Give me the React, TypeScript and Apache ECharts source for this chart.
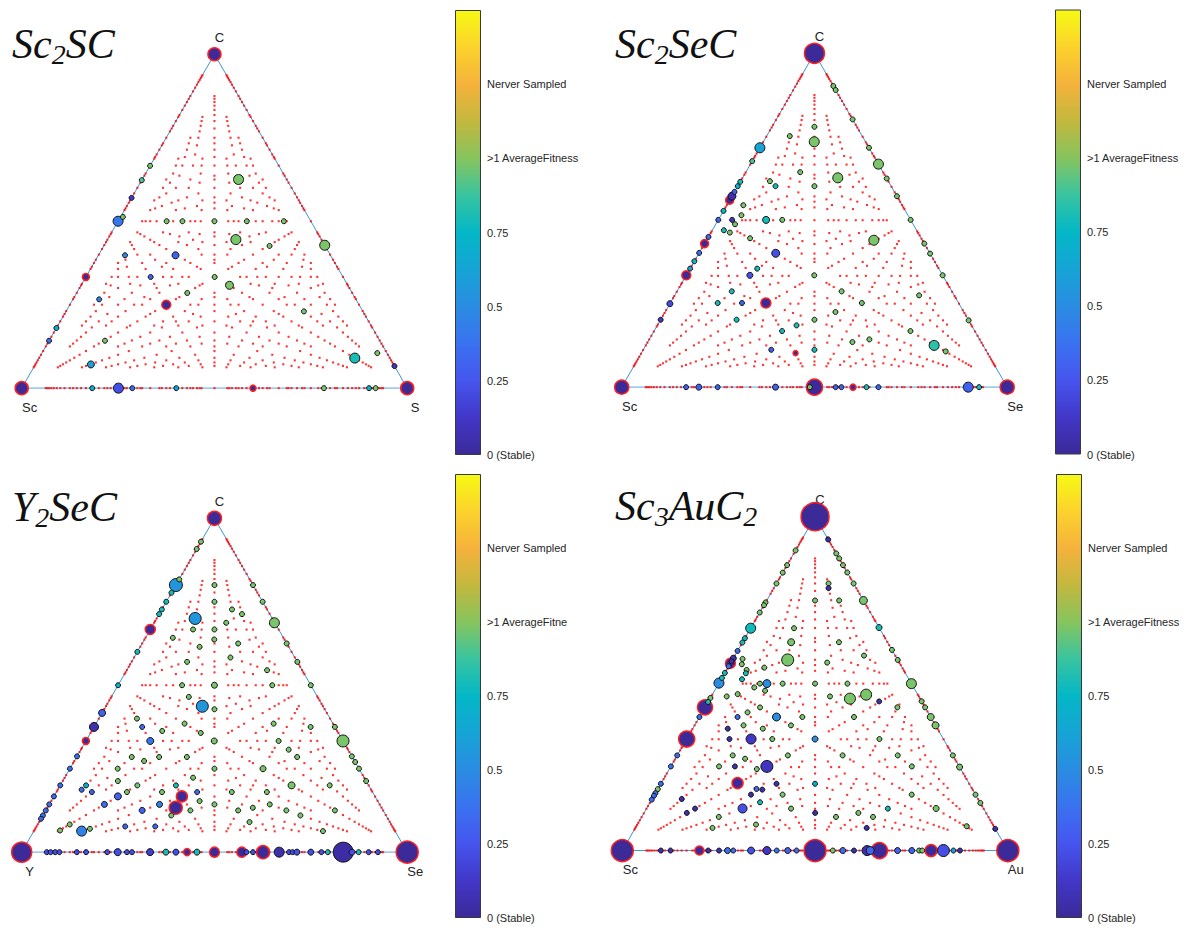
import React, { useEffect, useRef } from "react";
import * as echarts from "echarts";

// ---------- value shorthands (colour scale 0 .. 1.5) ----------
const G = 0.98; // ~1 average fitness (green)
const T = 0.8; // teal
const A = 0.55; // azure
const B = 0.35; // blue
const V = 0.22; // blue-violet
const D = 0.05; // dark (almost stable)
const s = 5; // small marker diameter

const SQ = Math.sqrt(3) / 2;
const MAX_ATOMS = 16; // sampled compositions: up to 16 atoms per cell

// colour bar
const cbTicks = [0, 0.25, 0.5, 0.75, 1, 1.25];
const cbLabels = ["0 (Stable)", "0.25", "0.5", "0.75", ">1 AverageFitness", "Nerver Sampled"];
const parula = [
  "#3b2a98", "#4237c8", "#4655ee", "#3a72f0", "#2a8ce2", "#16a4d6", "#03b7c6",
  "#38c4a0", "#86c45e", "#c3b83e", "#f5b23c", "#fcd22c", "#f6fa14",
];

// ---------- data: [rightFraction, carbonFraction, value, size] ----------
// Sc - S - C
const p1Names = ["Sc", "S", "C"];
const p1Stable = [
  [0, 0, 13], [1, 0, 13], [0, 1, 13], [0.25, 0.25, 9], [0, 0.333, 7], [0.6, 0, 6],
];
const p1Points = [
  [0.25, 0.625, G, 10], [0.333, 0.445, G, 10], [0.385, 0.308, G, 8], [0.572, 0.428, G, 10],
  [0.819, 0.09, T, 10], [0, 0.5, 0.4, 10], [0.2, 0.398, 0.3, 7], [0.144, 0.071, 0.6, 7],
  [0.251, 0, V, 10],
  [0, 0.666, G, s], [0, 0.623, 0.9, s], [0, 0.57, 0.12, s], [0.006, 0.513, G, s],
  [0.126, 0.5, G, s], [0.167, 0.5, G, s], [0.25, 0.5, G, s], [0.334, 0.5, G, s], [0.43, 0.5, G, s],
  [0.43, 0.426, G, s], [0.069, 0.398, 0.5, s], [0.168, 0.333, 0.3, s], [0.334, 0.333, G, s],
  [0.287, 0.285, G, s], [0.068, 0.266, 0.45, s], [0.617, 0.23, G, s], [0.145, 0.142, G, s],
  [0, 0.18, 0.7, s], [0, 0.142, B, s], [0.87, 0.105, G, s], [0.934, 0.066, 0.1, s],
  [0.183, 0, 0.7, s], [0.287, 0, B, s], [0.401, 0, 0.6, s], [0.784, 0, G, s], [0.901, 0, 0.7, s],
  [0.918, 0, G, s],
];

// Sc - Se - C
const p2Names = ["Sc", "Se", "C"];
const p2Stable = [
  [0, 0, 14], [1, 0, 14], [0, 1, 20], [0.5, 0, 16], [0.248, 0.252, 10], [0, 0.335, 9],
  [0, 0.43, 8], [0, 0.56, 8], [0.4, 0.102, 5], [0.6, 0, 6],
];
const p2Points = [
  [0, 0.717, 0.62, 10], [0.132, 0.735, G, 10], [0.332, 0.668, G, 10], [0.247, 0.627, G, 10],
  [0.434, 0.44, G, 10], [0.748, 0.125, 0.85, 10], [0.124, 0.501, T, 7], [0.199, 0.401, V, 8],
  [0, 0.572, D, 8], [0.899, 0, 0.3, 10], [0, 0.25, 0.2, 6], [0.165, 0.335, V, 6], [0, 0.501, 0.3, s],
  [0.098, 0.902, G, s], [0.11, 0.89, G, s], [0.198, 0.802, G, s], [0.283, 0.717, G, s],
  [0.375, 0.625, G, s], [0.428, 0.572, G, s], [0.499, 0.501, G, s], [0.57, 0.43, G, s],
  [0.6, 0.4, G, s], [0.665, 0.335, G, s], [0.8, 0.2, G, s],
  [0, 0.677, 0.9, s], [0, 0.615, T, s], [0, 0.602, 0.7, s], [0, 0.585, 0.3, s], [0, 0.528, 0.75, s],
  [0, 0.45, B, s], [0, 0.402, B, s], [0, 0.377, 0.75, s], [0, 0.355, 0.6, s], [0, 0.202, 0.12, s],
  [0.11, 0.78, G, s], [0.06, 0.752, G, s], [0.199, 0.602, G, s], [0.141, 0.644, G, s],
  [0.076, 0.617, G, s], [0.098, 0.602, T, s], [0.043, 0.545, G, s], [0.053, 0.515, G, s],
  [0.166, 0.501, G, s], [0.036, 0.501, 0.1, s], [0.05, 0.488, G, s], [0.03, 0.47, T, s],
  [0.049, 0.463, G, s], [0.11, 0.446, G, s], [0.174, 0.355, T, s], [0.332, 0.335, G, s],
  [0.142, 0.287, T, s], [0.123, 0.252, T, s], [0.186, 0.252, 0.3, s], [0.197, 0.202, T, s],
  [0.332, 0.168, T, s], [0.361, 0.185, T, s], [0.399, 0.202, G, s], [0.332, 0.112, 0.3, s],
  [0.444, 0.112, T, s], [0.427, 0.287, G, s], [0.497, 0.252, G, s], [0.442, 0.225, G, s],
  [0.531, 0.135, G, s], [0.571, 0.143, G, s], [0.665, 0.168, G, s], [0.634, 0.275, G, s],
  [0.787, 0.107, G, s],
  [0.167, 0, 0.3, s], [0.2, 0, 0.3, 6], [0.249, 0, 0.3, s], [0.399, 0, 0.3, 6], [0.488, 0, G, s],
  [0.555, 0, 0.3, s], [0.57, 0, 0.3, s], [0.635, 0, T, s], [0.666, 0, 0.3, s], [0.927, 0, T, s],
];

// Y - Se - C
const p3Names = ["Y", "Se", "C"];
const p3Stable = [
  [0, 0, 20], [1, 0, 22], [0, 1, 14], [0, 0.667, 10], [0, 0.333, 7], [0.332, 0.167, 11],
  [0.333, 0.133, 13], [0.429, 0, 7], [0.5, 0, 10], [0.571, 0, 10], [0.626, 0, 13],
];
const p3Points = [
  [0.834, 0, 0.03, 20], [0, 0.8, A, 13], [0.1, 0.7, A, 12], [0.25, 0.437, A, 12],
  [0.312, 0.687, G, 10], [0.667, 0.333, G, 12], [0, 0.417, 0.3, 7], [0, 0.375, D, 9],
  [0.167, 0.333, 0.4, 7], [0.166, 0.167, 0.3, 7], [0.124, 0.063, 0.45, 10], [0.668, 0, D, 10],
  [0.286, 0.143, 0.45, 6], [0.6, 0.2, G, 7], [0.501, 0.25, G, 6], [0.25, 0.5, G, 6],
  [0.333, 0.333, G, 6], [0.375, 0.25, G, s],
  [0, 0.908, G, s], [0, 0.93, G, s], [0, 0.817, G, s], [0, 0.777, T, s], [0, 0.75, T, s],
  [0, 0.727, T, s], [0, 0.713, T, s], [0, 0.6, T, s], [0, 0.5, 0.7, s], [0, 0.287, B, s],
  [0, 0.25, B, s], [0, 0.2, B, s], [0, 0.167, B, s], [0, 0.143, B, s], [0, 0.125, B, s],
  [0, 0.11, B, s], [0, 0.1, B, s],
  [0.2, 0.8, G, s], [0.25, 0.75, G, s], [0.375, 0.625, G, s], [0.43, 0.57, G, s], [0.5, 0.5, G, s],
  [0.625, 0.375, G, s], [0.713, 0.287, G, s], [0.73, 0.27, G, s], [0.75, 0.25, G, s], [0.787, 0.213, G, s],
  [0.1, 0.8, G, s], [0.125, 0.75, G, s], [0.1665, 0.667, G, s], [0.181, 0.637, G, s],
  [0.182, 0.727, G, s], [0.215, 0.713, G, s], [0.187, 0.687, G, s], [0.111, 0.667, G, s],
  [0.154, 0.615, G, s], [0.071, 0.642, G, s], [0.249, 0.625, G, s], [0.25, 0.583, G, s],
  [0.144, 0.57, G, s], [0.364, 0.545, G, s], [0.166, 0.5, G, s], [0.4, 0.5, G, s],
  [0.201, 0.465, G, s], [0.286, 0.428, G, s], [0.286, 0.357, G, s], [0.23, 0.385, G, s],
  [0.183, 0.363, G, s], [0.125, 0.375, B, s], [0.099, 0.4, G, s], [0.461, 0.385, G, s],
  [0.562, 0.375, G, s], [0.5, 0.333, G, s], [0.539, 0.307, G, s], [0.572, 0.285, G, s],
  [0.143, 0.285, G, s], [0.181, 0.273, G, s], [0.214, 0.285, G, s], [0.286, 0.285, G, s],
  [0.124, 0.25, G, s], [0.143, 0.213, G, s], [0.2, 0.2, G, s], [0.183, 0.18, G, s],
  [0.333, 0.223, G, s], [0.3, 0.2, T, s], [0.274, 0.18, G, s], [0.365, 0.18, B, s],
  [0.385, 0.153, G, s], [0.375, 0.125, G, s], [0.333, 0.11, G, s], [0.4285, 0.143, G, s],
  [0.455, 0.18, G, s], [0.546, 0.18, G, s], [0.572, 0.143, G, s], [0.533, 0.133, G, s],
  [0.499, 0.125, G, s], [0.546, 0.09, G, s], [0.624, 0.125, G, s], [0.668, 0.11, G, s],
  [0.699, 0.2, G, s], [0.75, 0.125, G, s], [0.75, 0.063, G, s], [0.25, 0.125, 0.3, 6],
  [0.143, 0.143, B, 6], [0.062, 0.187, B, s], [0.067, 0.2, 0.7, s], [0.092, 0.18, 0.3, s],
  [0.23, 0.077, 0.3, s], [0.308, 0.077, 0.3, s], [0.083, 0.083, G, s], [0.067, 0.065, G, s],
  [0.142, 0.07, G, s],
  [0.065, 0, V, s], [0.075, 0, V, s], [0.087, 0, V, s], [0.098, 0, V, s], [0.143, 0, V, s],
  [0.167, 0, V, s], [0.222, 0, V, s], [0.249, 0, V, 7], [0.273, 0, V, s], [0.286, 0, V, s],
  [0.333, 0, 0.15, 7], [0.374, 0, T, 6], [0.4, 0, V, 6], [0.4545, 0, T, 6], [0.583, 0, V, s],
  [0.6, 0, V, s], [0.6935, 0, V, s], [0.703, 0, V, s], [0.714, 0, V, 6], [0.75, 0, V, 6],
  [0.7775, 0, V, s], [0.794, 0, T, s], [0.857, 0, V, 6], [0.874, 0, T, s], [0.9, 0, V, s],
  [0.924, 0, V, s],
];

// Sc - Au - C
const p4Names = ["Sc", "Au", "C"];
const p4Stable = [
  [0, 0, 22], [1, 0, 22], [0, 1, 28], [0.5, 0, 22], [0.667, 0, 16], [0.801, 0, 12], [0.2, 0, 9],
  [0, 0.334, 16], [0, 0.429, 15], [0, 0.561, 10], [0.198, 0.202, 11],
];
const p4Points = [
  [0, 0.666, 0.78, 10], [0, 0.5015, 0.5, 10], [0.125, 0.5, 0.5, 8], [0.1435, 0.571, G, 12],
  [0.126, 0.624, G, 7], [0.363, 0.455, G, 11], [0.399, 0.467, G, 11], [0.251, 0.749, G, 8],
  [0.5, 0.5, G, 10], [0.332, 0.668, T, 6], [0.2, 0.4, 0.5, 8], [0.167, 0.334, 0.12, 10],
  [0.249, 0.252, 0.1, 12], [0.249, 0.126, V, 9], [0.333, 0.334, 0.5, 6], [0.4, 0.2, 0.7, s],
  [0.833, 0, V, 12], [0.635, 0, D, 10], [0.643, 0, 0.32, 8], [0.375, 0, 0.12, 8], [0.334, 0, V, 7],
  [0.429, 0, 0.3, 6], [0.714, 0, 0.3, 6], [0.751, 0, 0.3, 6], [0.859, 0, A, s], [0.751, 0.126, G, 6],
  [0, 0.899, G, s], [0, 0.855, G, s], [0, 0.8325, G, s], [0, 0.8, G, s], [0, 0.743, G, s],
  [0, 0.735, G, s], [0, 0.713, G, s], [0, 0.636, T, s], [0, 0.623, T, s], [0, 0.598, B, s],
  [0, 0.576, D, 6], [0, 0.567, D, s], [0, 0.552, B, s], [0, 0.532, T, s], [0, 0.517, T, s],
  [0, 0.457, G, s], [0, 0.445, T, s], [0, 0.4, B, s], [0, 0.285, B, s], [0, 0.252, B, s],
  [0, 0.2, B, s], [0, 0.184, G, s], [0, 0.172, B, s], [0, 0.164, B, s], [0, 0.1525, B, s],
  [0.025, 0.574, G, s], [0.031, 0.558, G, s], [0.052, 0.541, G, s], [0.055, 0.531, T, s],
  [0.054, 0.513, T, s],
  [0.068, 0.932, D, s], [0.11, 0.89, G, s], [0.125, 0.875, G, s], [0.145, 0.855, G, s],
  [0.167, 0.833, G, s], [0.2, 0.8, G, s], [0.399, 0.601, G, s], [0.429, 0.571, G, s],
  [0.553, 0.447, G, s], [0.571, 0.429, G, s], [0.6, 0.4, G, 7], [0.625, 0.375, G, 7],
  [0.715, 0.285, G, s], [0.75, 0.25, G, 6], [0.8325, 0.1675, G, s], [0.8574, 0.1426, G, s],
  [0.935, 0.065, D, s],
  [0.135, 0.8, G, s], [0.142, 0.786, D, s], [0.1255, 0.749, G, s], [0.188, 0.749, G, s],
  [0.1125, 0.666, G, s], [0.25, 0.624, G, s], [0.335, 0.584, G, s], [0.25, 0.563, G, s],
  [0.0945, 0.548, G, s], [0.098, 0.4885, G, s], [0.107, 0.5, G, s], [0.131, 0.4786, G, s],
  [0.166, 0.5, G, s], [0.25, 0.5, G, s], [0.334, 0.5, G, s], [0.308, 0.4616, G, s],
  [0.443, 0.4467, D, s], [0.499, 0.429, G, s], [0.04, 0.4616, G, s], [0.065, 0.4686, G, s],
  [0.143, 0.4287, G, s], [0.099, 0.4, B, s], [0.118, 0.4138, G, s], [0.267, 0.4, G, s],
  [0.401, 0.4, G, s], [0.127, 0.375, G, s], [0.182, 0.365, G, s], [0.25, 0.375, G, s],
  [0.091, 0.365, D, s], [0.111, 0.334, D, s], [0.222, 0.334, G, s], [0.5, 0.334, G, s],
  [0.144, 0.285, G, s], [0.181, 0.275, G, s], [0.287, 0.285, G, s], [0.429, 0.285, G, s],
  [0.572, 0.285, G, s], [0.125, 0.252, G, s], [0.166, 0.252, D, s], [0.227, 0.244, G, s],
  [0.625, 0.252, G, s], [0.3, 0.2, D, s], [0.272, 0.1825, D, s], [0.25, 0.1675, D, s],
  [0.256, 0.1844, B, s], [0.332, 0.1675, G, s], [0.077, 0.1545, D, s], [0.126, 0.1256, D, s],
  [0.111, 0.1127, D, s], [0.2, 0.1007, G, s], [0.285, 0.1446, T, s], [0.375, 0.1256, G, s],
  [0.444, 0.1127, D, s], [0.308, 0.0778, G, s], [0.2, 0.0678, G, s], [0.504, 0.1007, G, s],
  [0.556, 0.1127, G, s], [0.6, 0.1007, G, s], [0.6, 0.0678, D, s], [0.626, 0.1256, T, s],
  [0.667, 0.1675, G, s], [0.857, 0.0728, G, s],
  [0.1, 0, D, s], [0.125, 0, D, s], [0.223, 0, D, s], [0.251, 0, D, s], [0.273, 0, B, 6],
  [0.288, 0, B, s], [0.4005, 0, B, s], [0.452, 0, B, s], [0.546, 0, G, s], [0.572, 0, B, 6],
  [0.601, 0, D, s], [0.77, 0, G, s], [0.778, 0, G, s], [0.876, 0, D, s],
];

// ---------- layout (pixels) ----------
const SIDE = 385.5;
const panels = [
  { title: "{m|Sc}{s|2}{m|SC}", names: p1Names, stable: p1Stable, points: p1Points,
    left: 21.7, top: 54.3, tx: 12, ty: 19, cb: [455, 10, 26, 445], cbLabelWidth: 200 },
  { title: "{m|Sc}{s|2}{m|SeC}", names: p2Names, stable: p2Stable, points: p2Points,
    left: 621.7, top: 53.3, tx: 615, ty: 19, cb: [1055, 9.5, 26, 445], cbLabelWidth: 200 },
  { title: "{m|Y}{s|2}{m|SeC}", names: p3Names, stable: p3Stable, points: p3Points,
    left: 21.7, top: 518.3, tx: 12, ty: 482, cb: [455, 474, 26, 444], cbLabelWidth: 83 },
  { title: "{m|Sc}{s|3}{m|AuC}{s|2}", names: p4Names, stable: p4Stable, points: p4Points,
    left: 622.3, top: 516.7, tx: 615, ty: 481, cb: [1056, 474, 26, 444], cbLabelWidth: 200 },
];

function toXY(d: number[]) {
  const [b, c, ...rest] = d;
  return [b + c / 2, c * SQ, ...rest];
}

function latticeCompositions(maxAtoms: number) {
  const seen = new Set<string>();
  const out: number[][] = [];
  for (let n = 2; n <= maxAtoms; n++) {
    for (let j = 0; j <= n; j++) {
      for (let k = 0; k <= n - j; k++) {
        const i = n - j - k;
        const zeros = (i === 0 ? 1 : 0) + (j === 0 ? 1 : 0) + (k === 0 ? 1 : 0);
        if (zeros > 1) continue;
        const key = Math.round((j / n) * 1e5) + "," + Math.round((k / n) * 1e5);
        if (seen.has(key)) continue;
        seen.add(key);
        out.push([j / n, k / n]);
      }
    }
  }
  return out;
}

export default function App() {
  const ref = useRef<HTMLDivElement>(null);
  useEffect(() => {
    if (!ref.current) return;
    const chart = echarts.init(ref.current, undefined, { renderer: "svg" });
    const lattice = latticeCompositions(MAX_ATOMS).map(toXY);
    const triangle = [[0, 0], [1, 0], [0, 1], [0, 0]].map(toXY);
    const H = SIDE * SQ;

    const grid: any[] = [];
    const xAxis: any[] = [];
    const yAxis: any[] = [];
    const series: any[] = [];
    const graphic: any[] = [];
    const pointSeriesIdx: number[] = [];
    const gradient = new echarts.graphic.LinearGradient(
      0, 1, 0, 0,
      parula.map((c, i) => ({ offset: i / (parula.length - 1), color: c }))
    );

    panels.forEach((p, pi) => {
      const g = pi * 2;
      grid.push({ left: p.left, top: p.top, width: SIDE, height: H });
      xAxis.push({ type: "value", gridIndex: g, min: 0, max: 1, show: false });
      yAxis.push({ type: "value", gridIndex: g, min: 0, max: SQ, show: false });
      const [cx, cy, cw, ch] = p.cb;
      grid.push({ left: cx, top: cy, width: cw, height: ch });
      xAxis.push({ type: "category", gridIndex: g + 1, data: ["bar"], show: false, boundaryGap: true });
      yAxis.push({
        type: "value", gridIndex: g + 1, min: 0, max: 1.5, interval: 0.25, position: "right",
        axisLine: { show: false }, splitLine: { show: false },
        axisTick: { inside: true, length: 3, lineStyle: { color: "#333", width: 1 } },
        axisLabel: {
          margin: 6, fontSize: 11, color: "#262626", fontFamily: "Liberation Sans, Arial, sans-serif",
          width: p.cbLabelWidth, overflow: "truncate", ellipsis: "",
          formatter: (v: number) => {
            const idx = cbTicks.findIndex((t) => Math.abs(t - v) < 1e-6);
            return idx >= 0 ? cbLabels[idx] : "";
          },
        },
      });

      series.push({
        type: "line", xAxisIndex: g, yAxisIndex: g, data: triangle, symbol: "none", silent: true,
        lineStyle: { color: "#3b95d6", width: 1 }, z: 1,
      });
      series.push({
        type: "scatter", xAxisIndex: g, yAxisIndex: g, data: lattice, symbol: "rect", symbolSize: 2.1,
        silent: true, itemStyle: { color: "#ff0000" }, z: 2,
      });
      series.push({
        type: "scatter", xAxisIndex: g, yAxisIndex: g, silent: true, z: 3,
        data: p.stable.map((d) => toXY(d)).map((d) => [d[0], d[1], 0, d[2]]),
        symbolSize: (d: number[]) => d[3],
        itemStyle: { color: "#3b2a98", borderColor: "#ff1f1f", borderWidth: 1.5, opacity: 1 },
      });
      pointSeriesIdx.push(series.length);
      series.push({
        type: "scatter", xAxisIndex: g, yAxisIndex: g, silent: true, z: 4,
        data: p.points.map((d) => toXY(d)),
        symbolSize: (d: number[]) => d[3],
        itemStyle: { borderColor: "#111", borderWidth: 1, opacity: 1 },
      });
      series.push({
        type: "bar", xAxisIndex: g + 1, yAxisIndex: g + 1, data: [1.5], barWidth: "100%", silent: true,
        itemStyle: { color: gradient, borderColor: "#3a3a3a", borderWidth: 1 },
      });

      // titles
      graphic.push({
        type: "text", left: p.tx, top: p.ty, silent: true,
        style: {
          text: p.title,
          rich: {
            m: { fontFamily: "Liberation Serif", fontStyle: "italic", fontSize: 42, lineHeight: 49, fill: "#111" },
            s: { fontFamily: "Liberation Serif", fontStyle: "italic", fontSize: 28, lineHeight: 28, padding: [21, 0, 0, 0], fill: "#111" },
          },
        },
      });
      // vertex labels
      const vx = [p.left, p.left + SIDE, p.left + SIDE / 2];
      const vy = [p.top + H, p.top + H, p.top];
      const off = [[8, 19], [8, 19], [5, -17]];
      p.names.forEach((n, k) => {
        graphic.push({
          type: "text", x: vx[k] + off[k][0], y: vy[k] + off[k][1], silent: true, z: 0,
          style: {
            text: n, fontSize: 13, fontFamily: "Liberation Sans, Arial, sans-serif", fill: "#222",
            align: "center", verticalAlign: "middle",
          },
        });
      });
    });

    chart.setOption({
      animation: false,
      backgroundColor: "#ffffff",
      grid, xAxis, yAxis, series, graphic,
      visualMap: {
        type: "continuous", show: false, min: 0, max: 1.5, dimension: 2,
        seriesIndex: pointSeriesIdx, inRange: { color: parula },
      },
    });
    return () => chart.dispose();
  }, []);
  return (
    <div
      ref={ref}
      style={{ position: "absolute", left: 0, top: 0, width: 1188, height: 928, background: "#fff" }}
    />
  );
}
